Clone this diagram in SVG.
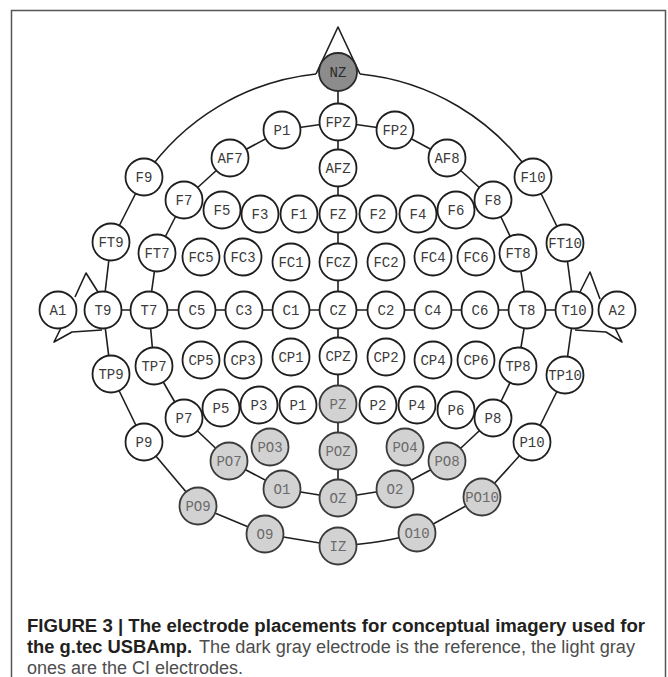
<svg xmlns="http://www.w3.org/2000/svg" width="668" height="677" viewBox="0 0 668 677">
<style>
.bg{fill:#ffffff}
.frame{fill:none;stroke:#555;stroke-width:1.5}
.c line,.c path,.c polyline{fill:none;stroke:#1e1e1e;stroke-width:1.6;stroke-linejoin:round}
.node circle{fill:#ffffff;stroke:#1e1e1e;stroke-width:1.8}
.node text{font-family:"Liberation Mono","DejaVu Sans Mono",monospace;font-size:14px;fill:#3a3a3a;text-anchor:middle}
.node.g circle{fill:#d2d2d2;stroke:#3a3a3a}
.node.g text{fill:#6a6a6a}
.node.d circle{fill:#8c8c8c;stroke:#2a2a2a}
.node.d text{fill:#2a2a2a}
.cap{font-family:"Liberation Sans",Arial,sans-serif;font-size:18px}
.cb{font-weight:bold;fill:#231f20}
.cr{fill:#4d4d4d}
</style>
<rect class="bg" x="0" y="0" width="668" height="677"/>
<path class="frame" d="M11.5 690 V10.5 H665.5 V690"/>
<g id="connectors" class="c">
<polyline points="316,74 338,27 360,74"/>
<polyline points="75,297 86,273 98,292"/>
<polyline points="61,328 54,342 72,332 102,330"/>
<polyline points="580,292 590,272 600,299"/>
<polyline points="615,328 622,342 606,332 575,330"/>
<path d="M316 74 A237 237 0 0 0 144 177"/>
<path d="M360 74 A237 237 0 0 1 533 177"/>
<line x1="144" y1="177" x2="111" y2="242"/>
<line x1="111" y1="242" x2="103" y2="310"/>
<line x1="103" y1="310" x2="111" y2="374"/>
<line x1="111" y1="374" x2="144" y2="442"/>
<line x1="144" y1="442" x2="198" y2="506"/>
<line x1="198" y1="506" x2="265" y2="534"/>
<line x1="265" y1="534" x2="338" y2="546"/>
<path d="M338 546 Q385 543 417 533"/>
<line x1="417" y1="533" x2="482" y2="497"/>
<line x1="482" y1="497" x2="532" y2="442"/>
<line x1="532" y1="442" x2="565" y2="375"/>
<line x1="565" y1="375" x2="574" y2="310"/>
<line x1="574" y1="310" x2="565" y2="243"/>
<line x1="565" y1="243" x2="533" y2="177"/>
<line x1="338" y1="122" x2="282" y2="130"/>
<line x1="282" y1="130" x2="230" y2="158"/>
<line x1="230" y1="158" x2="184" y2="200"/>
<line x1="184" y1="200" x2="157" y2="253"/>
<line x1="157" y1="253" x2="149" y2="310"/>
<line x1="149" y1="310" x2="154" y2="366"/>
<line x1="154" y1="366" x2="184" y2="418"/>
<line x1="184" y1="418" x2="229" y2="461"/>
<line x1="229" y1="461" x2="282" y2="489"/>
<line x1="282" y1="489" x2="338" y2="498"/>
<line x1="338" y1="122" x2="395" y2="130"/>
<line x1="395" y1="130" x2="447" y2="158"/>
<line x1="447" y1="158" x2="493" y2="200"/>
<line x1="493" y1="200" x2="518" y2="253"/>
<line x1="518" y1="253" x2="527" y2="310"/>
<line x1="527" y1="310" x2="518" y2="366"/>
<line x1="518" y1="366" x2="493" y2="418"/>
<line x1="493" y1="418" x2="447" y2="461"/>
<line x1="447" y1="461" x2="395" y2="489"/>
<line x1="395" y1="489" x2="338" y2="498"/>
<line x1="338" y1="72" x2="338" y2="498"/>
<line x1="103" y1="310" x2="574" y2="310"/>
</g>
<g id="n-NZ" class="node d"><circle cx="338" cy="72" r="19"/><text x="338" y="77">NZ</text></g>
<g id="n-FPZ" class="node"><circle cx="338" cy="122" r="18.5"/><text x="338" y="127">FPZ</text></g>
<g id="n-AFZ" class="node"><circle cx="338" cy="168" r="18.5"/><text x="338" y="173">AFZ</text></g>
<g id="n-FZ" class="node"><circle cx="338" cy="214" r="18.5"/><text x="338" y="219">FZ</text></g>
<g id="n-FCZ" class="node"><circle cx="338" cy="262" r="18.5"/><text x="338" y="267">FCZ</text></g>
<g id="n-CZ" class="node"><circle cx="338" cy="310" r="18.5"/><text x="338" y="315">CZ</text></g>
<g id="n-CPZ" class="node"><circle cx="338" cy="356" r="18.5"/><text x="338" y="361">CPZ</text></g>
<g id="n-PZ" class="node g"><circle cx="338" cy="404" r="18.5"/><text x="338" y="409">PZ</text></g>
<g id="n-POZ" class="node g"><circle cx="338" cy="451" r="18.5"/><text x="338" y="456">POZ</text></g>
<g id="n-OZ" class="node g"><circle cx="338" cy="498" r="18.5"/><text x="338" y="503">OZ</text></g>
<g id="n-IZ" class="node g"><circle cx="338" cy="546" r="18.5"/><text x="338" y="551">IZ</text></g>
<g id="n-FP1" class="node"><circle cx="282" cy="130" r="18.5"/><text x="282" y="135">P1</text></g>
<g id="n-AF7" class="node"><circle cx="230" cy="158" r="18.5"/><text x="230" y="163">AF7</text></g>
<g id="n-F9" class="node"><circle cx="144" cy="177" r="18.5"/><text x="144" y="182">F9</text></g>
<g id="n-F7" class="node"><circle cx="184" cy="200" r="18.5"/><text x="184" y="205">F7</text></g>
<g id="n-F5" class="node"><circle cx="222" cy="210" r="18.5"/><text x="222" y="215">F5</text></g>
<g id="n-F3" class="node"><circle cx="260" cy="214" r="18.5"/><text x="260" y="219">F3</text></g>
<g id="n-F1" class="node"><circle cx="299" cy="214" r="18.5"/><text x="299" y="219">F1</text></g>
<g id="n-FT9" class="node"><circle cx="111" cy="242" r="18.5"/><text x="111" y="247">FT9</text></g>
<g id="n-FT7" class="node"><circle cx="157" cy="253" r="18.5"/><text x="157" y="258">FT7</text></g>
<g id="n-FC5" class="node"><circle cx="201" cy="257" r="18.5"/><text x="201" y="262">FC5</text></g>
<g id="n-FC3" class="node"><circle cx="243" cy="257" r="18.5"/><text x="243" y="262">FC3</text></g>
<g id="n-FC1" class="node"><circle cx="291" cy="262" r="18.5"/><text x="291" y="267">FC1</text></g>
<g id="n-A1" class="node"><circle cx="58" cy="310" r="18.5"/><text x="58" y="315">A1</text></g>
<g id="n-T9" class="node"><circle cx="103" cy="310" r="18.5"/><text x="103" y="315">T9</text></g>
<g id="n-T7" class="node"><circle cx="149" cy="310" r="18.5"/><text x="149" y="315">T7</text></g>
<g id="n-C5" class="node"><circle cx="197" cy="310" r="18.5"/><text x="197" y="315">C5</text></g>
<g id="n-C3" class="node"><circle cx="244" cy="310" r="18.5"/><text x="244" y="315">C3</text></g>
<g id="n-C1" class="node"><circle cx="291" cy="310" r="18.5"/><text x="291" y="315">C1</text></g>
<g id="n-CP5" class="node"><circle cx="201" cy="360" r="18.5"/><text x="201" y="365">CP5</text></g>
<g id="n-CP3" class="node"><circle cx="243" cy="360" r="18.5"/><text x="243" y="365">CP3</text></g>
<g id="n-CP1" class="node"><circle cx="291" cy="357" r="18.5"/><text x="291" y="362">CP1</text></g>
<g id="n-TP7" class="node"><circle cx="154" cy="366" r="18.5"/><text x="154" y="371">TP7</text></g>
<g id="n-TP9" class="node"><circle cx="111" cy="374" r="18.5"/><text x="111" y="379">TP9</text></g>
<g id="n-P7" class="node"><circle cx="184" cy="418" r="18.5"/><text x="184" y="423">P7</text></g>
<g id="n-P5" class="node"><circle cx="221" cy="408" r="18.5"/><text x="221" y="413">P5</text></g>
<g id="n-P3" class="node"><circle cx="259" cy="405" r="18.5"/><text x="259" y="410">P3</text></g>
<g id="n-P1" class="node"><circle cx="298" cy="405" r="18.5"/><text x="298" y="410">P1</text></g>
<g id="n-P9" class="node"><circle cx="144" cy="442" r="18.5"/><text x="144" y="447">P9</text></g>
<g id="n-PO7" class="node g"><circle cx="229" cy="461" r="18.5"/><text x="229" y="466">PO7</text></g>
<g id="n-PO3" class="node g"><circle cx="270" cy="447" r="18.5"/><text x="270" y="452">PO3</text></g>
<g id="n-O1" class="node g"><circle cx="282" cy="489" r="18.5"/><text x="282" y="494">O1</text></g>
<g id="n-PO9" class="node g"><circle cx="198" cy="506" r="18.5"/><text x="198" y="511">PO9</text></g>
<g id="n-O9" class="node g"><circle cx="265" cy="534" r="18.5"/><text x="265" y="539">O9</text></g>
<g id="n-FP2" class="node"><circle cx="395" cy="130" r="18.5"/><text x="395" y="135">FP2</text></g>
<g id="n-AF8" class="node"><circle cx="447" cy="158" r="18.5"/><text x="447" y="163">AF8</text></g>
<g id="n-F10" class="node"><circle cx="533" cy="177" r="18.5"/><text x="533" y="182">F10</text></g>
<g id="n-F8" class="node"><circle cx="493" cy="200" r="18.5"/><text x="493" y="205">F8</text></g>
<g id="n-F6" class="node"><circle cx="456" cy="210" r="18.5"/><text x="456" y="215">F6</text></g>
<g id="n-F4" class="node"><circle cx="418" cy="214" r="18.5"/><text x="418" y="219">F4</text></g>
<g id="n-F2" class="node"><circle cx="378" cy="214" r="18.5"/><text x="378" y="219">F2</text></g>
<g id="n-FT10" class="node"><circle cx="565" cy="243" r="18.5"/><text x="565" y="248">FT10</text></g>
<g id="n-FT8" class="node"><circle cx="518" cy="253" r="18.5"/><text x="518" y="258">FT8</text></g>
<g id="n-FC6" class="node"><circle cx="476" cy="257" r="18.5"/><text x="476" y="262">FC6</text></g>
<g id="n-FC4" class="node"><circle cx="433" cy="257" r="18.5"/><text x="433" y="262">FC4</text></g>
<g id="n-FC2" class="node"><circle cx="386" cy="262" r="18.5"/><text x="386" y="267">FC2</text></g>
<g id="n-A2" class="node"><circle cx="617" cy="310" r="18.5"/><text x="617" y="315">A2</text></g>
<g id="n-T10" class="node"><circle cx="574" cy="310" r="18.5"/><text x="574" y="315">T10</text></g>
<g id="n-T8" class="node"><circle cx="527" cy="310" r="18.5"/><text x="527" y="315">T8</text></g>
<g id="n-C6" class="node"><circle cx="480" cy="310" r="18.5"/><text x="480" y="315">C6</text></g>
<g id="n-C4" class="node"><circle cx="433" cy="310" r="18.5"/><text x="433" y="315">C4</text></g>
<g id="n-C2" class="node"><circle cx="386" cy="310" r="18.5"/><text x="386" y="315">C2</text></g>
<g id="n-CP2" class="node"><circle cx="386" cy="357" r="18.5"/><text x="386" y="362">CP2</text></g>
<g id="n-CP4" class="node"><circle cx="433" cy="360" r="18.5"/><text x="433" y="365">CP4</text></g>
<g id="n-CP6" class="node"><circle cx="476" cy="360" r="18.5"/><text x="476" y="365">CP6</text></g>
<g id="n-TP8" class="node"><circle cx="518" cy="366" r="18.5"/><text x="518" y="371">TP8</text></g>
<g id="n-TP10" class="node"><circle cx="565" cy="375" r="18.5"/><text x="565" y="380">TP10</text></g>
<g id="n-P2" class="node"><circle cx="378" cy="405" r="18.5"/><text x="378" y="410">P2</text></g>
<g id="n-P4" class="node"><circle cx="417" cy="405" r="18.5"/><text x="417" y="410">P4</text></g>
<g id="n-P6" class="node"><circle cx="456" cy="410" r="18.5"/><text x="456" y="415">P6</text></g>
<g id="n-P8" class="node"><circle cx="493" cy="418" r="18.5"/><text x="493" y="423">P8</text></g>
<g id="n-P10" class="node"><circle cx="532" cy="442" r="18.5"/><text x="532" y="447">P10</text></g>
<g id="n-PO4" class="node g"><circle cx="405" cy="447" r="18.5"/><text x="405" y="452">PO4</text></g>
<g id="n-PO8" class="node g"><circle cx="447" cy="461" r="18.5"/><text x="447" y="466">PO8</text></g>
<g id="n-O2" class="node g"><circle cx="395" cy="489" r="18.5"/><text x="395" y="494">O2</text></g>
<g id="n-PO10" class="node g"><circle cx="482" cy="497" r="18.5"/><text x="482" y="502">PO10</text></g>
<g id="n-O10" class="node g"><circle cx="417" cy="533" r="18.5"/><text x="417" y="538">O10</text></g>
<g id="caption" class="cap">
<text class="cb" x="27" y="632" textLength="618" lengthAdjust="spacingAndGlyphs">FIGURE 3 | The electrode placements for conceptual imagery used for</text>
<text class="cb" x="27" y="653" textLength="165" lengthAdjust="spacingAndGlyphs">the g.tec USBAmp.</text>
<text class="cr" x="199" y="653" textLength="436" lengthAdjust="spacingAndGlyphs">The dark gray electrode is the reference, the light gray</text>
<text class="cr" x="27" y="674">ones are the CI electrodes.</text>
</g>
</svg>
